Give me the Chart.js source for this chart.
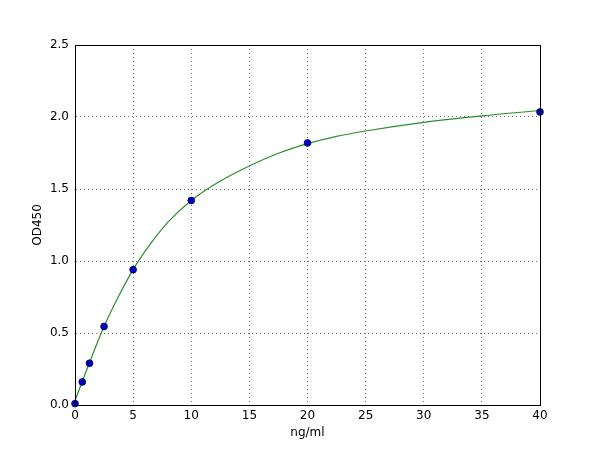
<!DOCTYPE html>
<html><head><meta charset="utf-8">
<script src="https://cdn.jsdelivr.net/npm/chart.js@4"></script>
<style>html,body{margin:0;padding:0;background:#fff}#wrap{width:600px;height:450px}</style>
</head><body><div id="wrap"><canvas id="c" width="600" height="450"></canvas></div>
<script>
const concentrations = [0, 0.625, 1.25, 2.5, 5, 10, 20, 40];
const odValues = [0.01, 0.16, 0.29, 0.545, 0.94, 1.42, 1.82, 2.035];
const curveX = [0, 0.625, 1.25, 2.5, 3.75, 5, 6.5, 8, 10, 12.5, 15, 17.5, 20, 22.5, 25, 30, 35, 40];
const curveY = [0.03, 0.165, 0.295, 0.545, 0.755, 0.94, 1.12, 1.27, 1.42, 1.555, 1.66, 1.748, 1.815, 1.866, 1.903, 1.963, 2.008, 2.045];
const xTicks = [0, 5, 10, 15, 20, 25, 30, 35, 40];
const yTicks = [0, 0.5, 1.0, 1.5, 2.0, 2.5];

const framePlugin = {
  id: 'frame',
  afterDraw(chart) {
    const {ctx, chartArea: a} = chart;
    ctx.save();
    ctx.strokeStyle = '#000';
    ctx.lineWidth = 1;
    ctx.strokeRect(Math.round(a.left) + 0.5, Math.round(a.top) + 0.5, Math.round(a.right - a.left), Math.round(a.bottom - a.top));
    ctx.restore();
  }
};

const font = {family: 'DejaVu Sans', size: 12};
new Chart(document.getElementById('c'), {
  type: 'line',
  data: {
    datasets: [
      {
        data: curveX.map((x, i) => ({x, y: curveY[i]})),
        borderColor: '#2a8f2a', borderWidth: 1.2, pointRadius: 0,
        cubicInterpolationMode: 'monotone', fill: false, order: 2
      },
      {
        data: concentrations.map((x, i) => ({x, y: odValues[i]})),
        showLine: false, pointRadius: 3.4, pointBackgroundColor: '#0000c0',
        pointBorderColor: '#000060', pointBorderWidth: 0.8, order: 1, clip: false
      }
    ]
  },
  options: {
    responsive: false, animation: false, devicePixelRatio: 1,
    layout: {padding: {left: 0, top: 45, right: 60, bottom: 0}},
    plugins: {legend: {display: false}, tooltip: {enabled: false}},
    scales: {
      x: {
        type: 'linear', min: 0, max: 40,
        afterFit(s) { s.height = 45; },
        afterBuildTicks(s) { s.ticks = xTicks.map(v => ({value: v})); },
        grid: {color: 'rgba(0,0,0,0.55)', lineWidth: 1, drawTicks: false},
        border: {display: true, color: '#000', dash: [1,3]},
        ticks: {color: '#000', font, padding: 4, maxRotation: 0, callback: v => String(v)},
        title: {display: true, text: 'ng/ml', color: '#000', font, padding: {top: 0, bottom: 10}}
      },
      y: {
        type: 'linear', min: 0, max: 2.5,
        afterFit(s) { s.width = 75; },
        afterBuildTicks(s) { s.ticks = yTicks.map(v => ({value: v})); },
        grid: {color: 'rgba(0,0,0,0.55)', lineWidth: 1, drawTicks: false},
        border: {display: true, color: '#000', dash: [1,3]},
        ticks: {color: '#000', font, padding: 6, callback: v => v.toFixed(1)},
        title: {display: true, text: 'OD450', color: '#000', font, padding: {top: 31, bottom: 0}}
      }
    }
  },
  plugins: [framePlugin]
});
</script></body></html>
